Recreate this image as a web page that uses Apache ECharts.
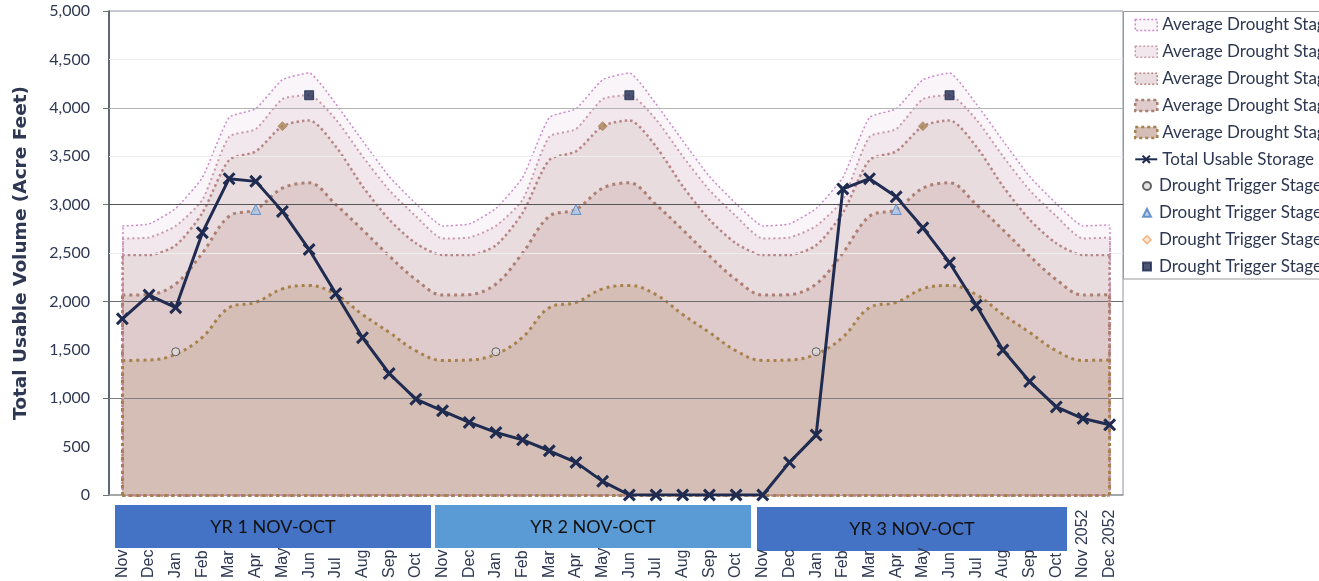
<!DOCTYPE html>
<html>
<head>
<meta charset="utf-8">
<script src="https://cdn.jsdelivr.net/npm/echarts@6/dist/echarts.min.js"></script>
<style>
  html, body { margin: 0; padding: 0; background: #fff; }
  #chart { width: 1319px; height: 581px; }
</style>
</head>
<body>
<div id="chart"></div>
<script>
// Month categories: three Nov–Oct water years plus two trailing months
const categories = [
  'Nov','Dec','Jan','Feb','Mar','Apr','May','Jun','Jul','Aug','Sep','Oct',
  'Nov','Dec','Jan','Feb','Mar','Apr','May','Jun','Jul','Aug','Sep','Oct',
  'Nov','Dec','Jan','Feb','Mar','Apr','May','Jun','Jul','Aug','Sep','Oct',
  'Nov 2052','Dec 2052'
];

// Average drought stage storage curves (acre feet)
const avgStage1 = [2780,2800,2960,3280,3900,3990,4290,4360,4040,3660,3290,3010,
                   2780,2800,2960,3280,3900,3990,4290,4360,4040,3660,3290,3010,
                   2780,2800,2960,3280,3900,3990,4290,4360,4040,3660,3290,3010,
                   2780,2790];
const avgStage2 = [2650,2660,2780,3050,3700,3780,4090,4130,3880,3500,3150,2880,
                   2650,2660,2780,3050,3700,3780,4090,4130,3880,3500,3150,2880,
                   2650,2660,2780,3050,3700,3780,4090,4130,3880,3500,3150,2880,
                   2650,2660];
const avgStage3 = [2480,2480,2580,2915,3460,3550,3810,3870,3600,3190,2845,2600,
                   2480,2480,2580,2915,3460,3550,3810,3870,3600,3190,2845,2600,
                   2480,2480,2580,2915,3460,3550,3810,3870,3600,3190,2845,2600,
                   2480,2480];
const avgStage4 = [2065,2070,2180,2500,2880,2950,3170,3225,3000,2740,2470,2225,
                   2065,2070,2180,2500,2880,2950,3170,3225,3000,2740,2470,2225,
                   2065,2070,2180,2500,2880,2950,3170,3225,3000,2740,2470,2225,
                   2065,2070];
const avgStage5 = [1390,1395,1455,1630,1935,1990,2130,2165,2070,1865,1680,1490,
                   1390,1395,1455,1630,1935,1990,2130,2165,2070,1865,1680,1490,
                   1390,1395,1455,1630,1935,1990,2130,2165,2070,1865,1680,1490,
                   1390,1395];

// Total usable storage
const totalStorage = [1820,2065,1935,2710,3268,3240,2930,2536,2082,1625,1255,990,
                      870,750,646,570,457,337,141,0,0,0,0,0,
                      0,337,619,3162,3268,3080,2760,2400,1960,1498,1172,910,
                      790,725];

// Drought trigger points: month of year and storage level
const triggerNames  = ['Drought Trigger Stage 1','Drought Trigger Stage 2','Drought Trigger Stage 3','Drought Trigger Stage 4'];
const triggerMonths = ['Jan','Apr','May','Jun'];
const triggerValues = [1480, 2950, 3810, 4130];

// Water-year band labels under the axis
const yearLabels = ['YR 1 NOV-OCT','YR 2 NOV-OCT','YR 3 NOV-OCT'];

const avgNames = ['Average Drought Stage 1','Average Drought Stage 2','Average Drought Stage 3',
                  'Average Drought Stage 4','Average Drought Stage 5'];
const avgData = [avgStage1, avgStage2, avgStage3, avgStage4, avgStage5];

const TEXT = '#2e3853';
const NAVY = '#1f2b50';

const avgStyles = [
  { line: '#cc88cc', fill: '#faf5f9', width: 1.5, dash: [2, 2.5], smooth: 0.15 },
  { line: '#c99aa8', fill: '#f1e7ec', width: 2,   dash: [2, 3],   smooth: 0.2 },
  { line: '#b88586', fill: '#e9dcdf', width: 2.5, dash: [2.5, 3], smooth: 0.25 },
  { line: '#ad7f72', fill: '#dfcbcb', width: 3,   dash: [3, 4],   smooth: 0.35 },
  { line: '#a8804c', fill: '#d4beb5', width: 3,   dash: [3, 4],   smooth: 0.4 }
];

const last = categories.length - 1;

// Stage areas, drawn from the highest curve down so lower bands sit on top
const areaSeries = avgData.map((vals, k) => {
  const st = avgStyles[k];
  const edge = { color: st.line, width: st.width, type: st.dash };
  return {
    name: avgNames[k],
    type: 'line',
    data: vals,
    z: 2,
    smooth: st.smooth,
    symbol: 'none',
    lineStyle: { color: st.line, width: st.width, type: st.dash },
    itemStyle: { color: st.line },
    areaStyle: { color: st.fill, opacity: 1 },
    markLine: {
      silent: true,
      symbol: 'none',
      z: 3,
      label: { show: false },
      emphasis: { disabled: true },
      data: [
        [{ coord: [0, 0], lineStyle: edge }, { coord: [0, vals[0]] }],
        [{ coord: [last, 0], lineStyle: edge }, { coord: [last, vals[last]] }],
        [{ coord: [0, 0], lineStyle: edge }, { coord: [last, 0] }]
      ]
    }
  };
});

// Gridlines drawn above the stage bands
const gridLevels = [
  { v: 4500, c: '#eeeeee' }, { v: 3500, c: '#eeeeee' }, { v: 2500, c: '#eeeeee' },
  { v: 4000, c: '#b4b4b4' }, { v: 3000, c: '#555555' }, { v: 2000, c: '#6c6c6c' }, { v: 1000, c: '#808080' }
];
areaSeries[0].markLine.data = gridLevels.map(g => ({ yAxis: g.v, lineStyle: { color: g.c, width: 1, type: 'solid' } }))
  .concat(areaSeries[0].markLine.data);

// X marker for the storage line
const crossPath = 'path://M0,2L2,0L6,4L10,0L12,2L8,6L12,10L10,12L6,8L2,12L0,10L4,6Z';

const totalSeries = {
  name: 'Total Usable Storage',
  type: 'line',
  data: totalStorage,
  z: 6,
  symbol: crossPath,
  symbolSize: 13,
  showAllSymbol: true,
  lineStyle: { color: NAVY, width: 3 },
  itemStyle: { color: NAVY }
};

const triggerStyles = [
  { symbol: 'circle',   size: 8,  itemStyle: { color: '#dcdcdc', borderColor: '#404040', borderWidth: 1 } },
  { symbol: 'triangle', size: 10, itemStyle: { color: '#a7c8ea', borderColor: '#4a7fc0', borderWidth: 1 } },
  { symbol: 'diamond',  size: 9,  itemStyle: { color: '#a98456', borderColor: '#a98456', borderWidth: 1 } },
  { symbol: 'rect',     size: 9,  itemStyle: { color: NAVY, borderColor: NAVY, borderWidth: 1 } }
];

const triggerSeries = triggerNames.map((name, k) => {
  const pts = [];
  for (let i = 0; i < 36; i++) {
    if (categories[i] === triggerMonths[k]) pts.push([i, triggerValues[k]]);
  }
  return {
    name,
    type: 'scatter',
    data: pts,
    z: 7,
    symbol: triggerStyles[k].symbol,
    symbolSize: triggerStyles[k].size,
    itemStyle: triggerStyles[k].itemStyle
  };
});

const legendText = { fontFamily: 'Lato', fontSize: 17, color: TEXT, lineHeight: 18 };

const chart = echarts.init(document.getElementById('chart'), null, { renderer: 'canvas' });

chart.setOption({
  animation: false,
  backgroundColor: '#ffffff',
  grid: {
    left: 109, right: 196, top: 11, bottom: 85,
    show: true, borderColor: '#8c92a2', borderWidth: 1, backgroundColor: 'transparent'
  },
  xAxis: {
    type: 'category',
    data: categories,
    boundaryGap: true,
    axisLine: { lineStyle: { color: '#9a9a9a', width: 1.5 } },
    axisTick: { alignWithLabel: true, length: 5, lineStyle: { color: '#9a9a9a' } },
    axisLabel: {
      interval: 0, rotate: 90, align: 'left', margin: 83,
      fontFamily: 'Liberation Sans', fontSize: 16, color: TEXT
    },
    splitLine: { show: false }
  },
  yAxis: [
    {
      type: 'value', min: 0, max: 5000, interval: 500, position: 'left',
      name: 'Total Usable Volume (Acre Feet)',
      nameLocation: 'middle', nameRotate: 90, nameGap: 78,
      nameTextStyle: { fontFamily: 'DejaVu Sans', fontWeight: 'bold', fontSize: 18.5, color: TEXT },
      axisLine: { show: true, lineStyle: { color: '#3c4459', width: 1.5 } },
      axisTick: { show: false },
      axisLabel: {
        margin: 19, fontFamily: 'Lato', fontSize: 16, color: TEXT,
        formatter: v => v.toLocaleString('en-US')
      },
      splitLine: { show: false }
    },
    {
      type: 'value', min: 0, max: 5000, interval: 1000, position: 'left', offset: 0,
      axisLine: { show: false },
      axisTick: { show: true, length: 6, lineStyle: { color: '#707070' } },
      axisLabel: { show: false },
      splitLine: { show: false }
    }
  ],
  legend: [
    {
      orient: 'vertical', left: 1134, top: 16, padding: 0,
      itemWidth: 22, itemHeight: 11, itemGap: 8.86,
      textStyle: legendText,
      selectedMode: false,
      data: avgNames.map((n, k) => ({
        name: n, icon: 'rect',
        itemStyle: { color: avgStyles[k].fill, borderColor: avgStyles[k].line,
                     borderWidth: k < 3 ? 1.5 : 2.5, borderType: k < 3 ? [2, 2] : [3, 3] }
      })).concat([{ name: 'Total Usable Storage' }])
    },
    {
      orient: 'vertical', left: 1142, top: 177, padding: 0,
      itemWidth: 14, itemHeight: 8, itemGap: 8.86,
      textStyle: legendText,
      selectedMode: false,
      data: [
        { name: triggerNames[0], icon: 'circle' },
        { name: triggerNames[1], icon: 'path://M4,0L8,8L0,8Z' },
        { name: triggerNames[2], icon: 'path://M4,0L8,4L4,8L0,4Z',
          itemStyle: { color: '#fde3cf', borderColor: '#f4a15d', borderWidth: 1.5 } },
        { name: triggerNames[3], icon: 'path://M0,0L8,0L8,8L0,8Z' }
      ]
    }
  ],
  graphic: [
    { type: 'rect', z: 0, shape: { x: 1123.5, y: 11.5, width: 240, height: 267.5 },
      style: { fill: '#ffffff', stroke: '#9a9a9a', lineWidth: 1 } },
    { type: 'rect', shape: { x: 115, y: 505, width: 316, height: 43 }, style: { fill: '#4472c4' } },
    { type: 'rect', shape: { x: 435, y: 505, width: 316, height: 43 }, style: { fill: '#5b9bd5' } },
    { type: 'rect', shape: { x: 757, y: 507, width: 310, height: 44 }, style: { fill: '#4472c4' } },
    { type: 'text', x: 273, y: 527, style: { text: yearLabels[0], fill: '#111111', font: '18px Lato', align: 'center', verticalAlign: 'middle' } },
    { type: 'text', x: 593, y: 527, style: { text: yearLabels[1], fill: '#111111', font: '18px Lato', align: 'center', verticalAlign: 'middle' } },
    { type: 'text', x: 912, y: 529, style: { text: yearLabels[2], fill: '#111111', font: '18px Lato', align: 'center', verticalAlign: 'middle' } }
  ],
  series: areaSeries.concat([totalSeries]).concat(triggerSeries)
});
</script>
</body>
</html>
